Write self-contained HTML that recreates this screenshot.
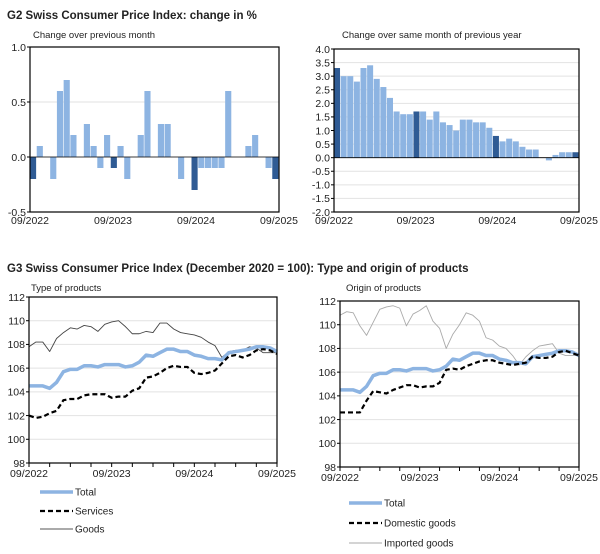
<!DOCTYPE html>
<html><head><meta charset="utf-8"><style>
body{margin:0;background:#fff;font-family:"Liberation Sans",Arial,sans-serif;}
svg text{font-family:"Liberation Sans",Arial,sans-serif;fill:#222;}
</style></head><body>
<svg id="s" width="600" height="549" xmlns="http://www.w3.org/2000/svg">
<text x="7" y="19" font-size="11.5" font-weight="bold">G2  Swiss Consumer Price Index: change in %</text>
<text x="33" y="38" font-size="9.5">Change over previous month</text>
<text x="342" y="38" font-size="9.5">Change over same month of previous year</text>
<text x="7" y="272" font-size="11.5" font-weight="bold">G3  Swiss Consumer Price Index (December 2020 = 100): Type and origin of products</text>
<text x="31" y="291" font-size="9.5">Type of products</text>
<text x="346" y="291" font-size="9.5">Origin of products</text>
<g id="legends"></g>
</svg>
<script>
const xTickLabels=["09/2022","09/2023","09/2024","09/2025"];
const momValues=[-0.2,0.1,0,-0.2,0.6,0.7,0.2,0,0.3,0.1,-0.1,0.2,-0.1,0.1,-0.2,0,0.2,0.6,0,0.3,0.3,0,-0.2,0,-0.3,-0.1,-0.1,-0.1,-0.1,0.6,0,0,0.1,0.2,0,-0.1,-0.2];
const yoyValues=[3.3,3.0,3.0,2.8,3.3,3.4,2.9,2.6,2.2,1.7,1.6,1.6,1.7,1.7,1.4,1.7,1.3,1.2,1.0,1.4,1.4,1.3,1.3,1.1,0.8,0.6,0.7,0.6,0.4,0.3,0.3,0.0,-0.1,0.1,0.2,0.2,0.2];
const momTicks=["1.0","0.5","0.0","-0.5"];
const yoyTicks=["4.0","3.5","3.0","2.5","2.0","1.5","1.0","0.5","0.0","-0.5","-1.0","-1.5","-2.0"];
const idxTicks=["112","110","108","106","104","102","100","98"];
const totalIdx=[104.5,104.5,104.5,104.3,104.8,105.7,105.9,105.9,106.2,106.2,106.1,106.3,106.3,106.3,106.1,106.2,106.5,107.1,107.0,107.3,107.6,107.6,107.4,107.4,107.1,107.0,106.8,106.8,106.7,107.3,107.4,107.5,107.6,107.8,107.8,107.7,107.4];
const servicesIdx=[102.0,101.8,101.9,102.2,102.4,103.3,103.4,103.4,103.7,103.8,103.8,103.8,103.5,103.6,103.6,104.1,104.3,105.2,105.3,105.6,106.0,106.2,106.1,106.1,105.6,105.5,105.6,105.8,106.4,107.0,107.1,106.9,107.1,107.5,107.6,107.5,107.2];
const goodsIdx=[107.8,108.2,108.2,107.4,108.5,109.0,109.4,109.3,109.6,109.5,109.1,109.7,109.9,110.0,109.5,108.9,108.9,109.1,109.0,109.8,109.8,109.3,109.0,108.9,108.8,108.6,108.2,107.9,106.9,107.4,107.5,107.5,107.8,107.7,107.3,107.3,107.3];
const domesticIdx=[102.6,102.6,102.6,102.6,103.6,104.4,104.3,104.2,104.5,104.7,104.9,104.9,104.7,104.8,104.8,105.1,106.2,106.3,106.2,106.5,106.7,106.9,107.0,107.0,106.8,106.7,106.6,106.7,106.8,107.3,107.2,107.2,107.3,107.7,107.8,107.6,107.4];
const importedIdx=[110.8,111.1,111.0,109.9,109.1,110.2,111.3,111.5,111.6,111.4,109.9,110.9,111.2,111.6,110.3,109.7,108.0,109.2,110.0,111.0,110.8,110.3,108.9,108.7,108.2,108.0,107.4,106.6,107.3,107.8,108.2,108.3,108.4,107.6,107.4,107.4,107.4];

const NS="http://www.w3.org/2000/svg";
const svg=document.getElementById('s');
function mk(tag,attrs,parent){const e=document.createElementNS(NS,tag);for(const k in attrs)e.setAttribute(k,attrs[k]);(parent||svg).appendChild(e);return e;}

function frame(name,L,R,T,B,ticks,vmax,vmin){
  const g=mk('g',{});
  
  
  const y=v=>T+(vmax-v)/(vmax-vmin)*(B-T);
  ticks.forEach(t=>{const v=parseFloat(t);
    const ln=mk('line',{x1:L,x2:R,y1:y(v),y2:y(v),stroke:'#e2e2e2','stroke-width':1},g);
    
    
    const tx=mk('text',{x:L-4,y:y(v)+3.8,'font-size':10.5,'text-anchor':'end'},g);tx.textContent=t;
    
    
    mk('line',{x1:L-3,x2:L,y1:y(v),y2:y(v),stroke:'#000'},g);
  });
  return {g,y};
}
function xlabels(g,L,R,yl){
  xTickLabels.forEach((t,i)=>{const tx=mk('text',{x:L+i*(R-L)/3,y:yl,'font-size':10.5,'text-anchor':'middle'},g);tx.textContent=t;
    
    });
}
function barChart(name,vals,ticks,vmax,vmin,L,R,T,B){
  const f=frame(name,L,R,T,B,ticks,vmax,vmin);
  const n=vals.length,w=(R-L)/n;
  vals.forEach((v,i)=>{
    const dark=(i%12===0);
    const y0=f.y(0),y1=f.y(v);
    const r=mk('rect',{x:L+i*w,y:Math.min(y0,y1),width:w-0.6,height:Math.abs(y1-y0),fill:dark?'#2f5b94':'#8db4e2'},f.g);
    
    
  });
  mk('line',{x1:L,x2:R,y1:f.y(0),y2:f.y(0),stroke:'#000','stroke-width':0.8},f.g);
  mk('rect',{x:L,y:T,width:R-L,height:B-T,fill:'none',stroke:'#000','stroke-width':1.2},f.g);
  xlabels(f.g,L,R,B+12);
}
function lineChart(name,series,L,R,T,B,xl){
  const f=frame(name,L,R,T,B,idxTicks,112,98);
  const n=37,x=i=>L+i*(R-L)/(n-1);
  series.forEach(s=>{
    const p=mk('polyline',{points:s.d.map((v,i)=>x(i)+','+f.y(v)).join(' '),fill:'none',stroke:s.c,'stroke-width':s.w,'stroke-dasharray':s.dash||'none','stroke-linejoin':'round'},f.g);
    
    
  });
  mk('rect',{x:L,y:T,width:R-L,height:B-T,fill:'none',stroke:'#000','stroke-width':1.2},f.g);
  for(let i=0;i<n;i+=3)mk('line',{x1:x(i),x2:x(i),y1:B,y2:B+4,stroke:'#000'},f.g);
  xlabels(f.g,L,R,xl);
}
barChart('mom-chart',momValues,momTicks,1,-0.5,30,279,47,212);
barChart('yoy-chart',yoyValues,yoyTicks,4,-2,334,579,49,212);
lineChart('type-chart',[
  {n:'goods-line',d:goodsIdx,c:'#444',w:0.9},
  {n:'total-line',d:totalIdx,c:'#8db4e2',w:3.5},
  {n:'services-line',d:servicesIdx,c:'#000',w:2.2,dash:'5 3'}],29,277,297,463,477);
lineChart('origin-chart',[
  {n:'imported-line',d:importedIdx,c:'#aaa',w:0.9},
  {n:'total-line',d:totalIdx,c:'#8db4e2',w:3.5},
  {n:'domestic-line',d:domesticIdx,c:'#000',w:2.2,dash:'5 3'}],340,579,301,467,481);

const lg=document.getElementById('legends');
const legItems=[
 {x:40,y:492,t:'Total',c:'#8db4e2',w:3.5},
 {x:40,y:511,t:'Services',c:'#000',w:2.2,dash:'5 3'},
 {x:40,y:529,t:'Goods',c:'#555',w:0.9},
 {x:349,y:503,t:'Total',c:'#8db4e2',w:3.5},
 {x:349,y:523,t:'Domestic goods',c:'#000',w:2.2,dash:'5 3'},
 {x:349,y:543,t:'Imported goods',c:'#aaa',w:0.9}];
legItems.forEach(it=>{
  const g=mk('g',{},lg);
  
  
  mk('line',{x1:it.x,x2:it.x+33,y1:it.y,y2:it.y,stroke:it.c,'stroke-width':it.w,'stroke-dasharray':it.dash||'none'},g);
  const t=mk('text',{x:it.x+35,y:it.y+3.5,'font-size':10},g);t.textContent=it.t;
});
</script>
</body></html>
